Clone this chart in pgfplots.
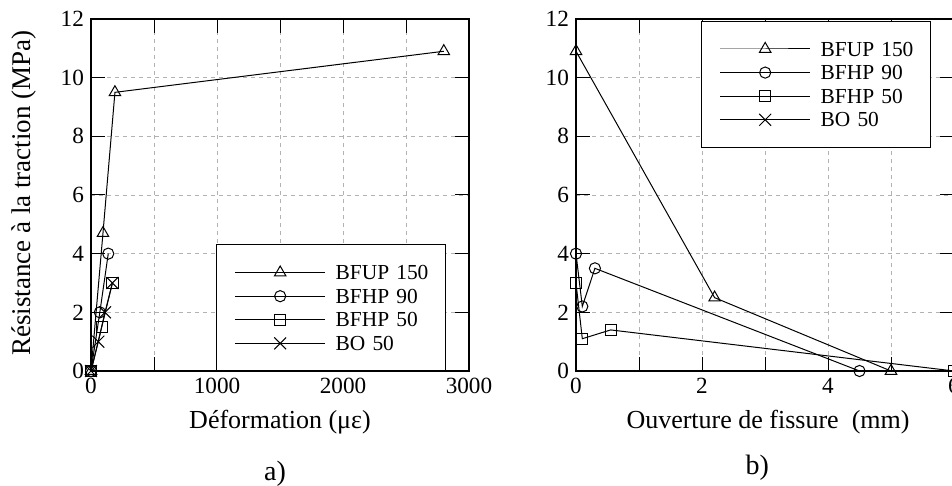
\documentclass[border=0pt]{standalone}
\usepackage{fontspec}
\setmainfont{Liberation Serif}
\usepackage{pgfplots}
\pgfplotsset{compat=1.18}
\begin{document}
\begin{tikzpicture}
\path[use as bounding box] (0pt,0pt) rectangle (476pt,243pt);
\pgfplotsset{
 myaxis/.style={
  scale only axis, width=189pt, height=176pt, anchor=south west,
  ymin=0, ymax=12, ytick={0,2,...,12}, yticklabels={0,2,4,6,8,10,12},
  grid=major, major grid style={dash pattern=on 2pt off 2pt, color=black!30, line width=0.4pt},
  axis line style={line width=0.6pt}, major tick length=7pt, tick style={black, line width=0.5pt},
  tick pos=both,
  ticklabel style={font=\fontsize{11.6}{13}\selectfont},
  label style={font=\fontsize{13}{15}\selectfont},
  every axis plot/.append style={black, line width=0.5pt, mark options={solid}},
  legend image code/.code={\draw[mark repeat=2,mark phase=2,##1] plot coordinates {(0pt,0pt) (22.5pt,0pt) (45pt,0pt)};},
  legend style={draw=black, line width=0.5pt, fill=white, outer sep=0pt, inner xsep=9pt, inner ysep=10.2pt, row sep=4.6pt, column sep=5pt, cells={anchor=west}, nodes={inner sep=0pt, text height=7.2pt, text depth=0pt, text width=46pt, align=left, font=\fontsize{10.7}{12}\selectfont}},
 },
 tri/.style={mark=triangle, mark size=3.3pt},
 cir/.style={mark=o, mark size=2.8pt},
 sq/.style={mark=square, mark size=2.8pt},
 cr/.style={mark=x, mark size=4.2pt},
}
\begin{axis}[myaxis, at={(45.5pt,57.5pt)},
  xmin=0, xmax=3000, xtick={0,500,...,3000}, xticklabels={0,,1000,,2000,,3000},
  xlabel={Déformation (με)}, ylabel={Résistance à la traction (MPa)},
  xlabel style={at={(axis description cs:0.5,-0.144)}, anchor=center},
  ylabel style={at={(axis description cs:-0.177,0.505)}, anchor=center, font=\fontsize{13.5}{15}\selectfont},
  legend style={at={(0.3325,0)}, anchor=south west}]
\addplot[tri] coordinates {(0,0) (95,4.7) (190,9.5) (2800,10.9)};
\addplot[cir] coordinates {(0,0) (70,2) (137,4)};
\addplot[sq] coordinates {(0,0) (85,1.5) (170,3)};
\addplot[cr] coordinates {(0,0) (58,1) (111,2) (170,3)};
\legend{\mbox{BFUP 150}, \mbox{BFHP 90}, \mbox{BFHP 50}, \mbox{BO 50}}
\end{axis}
\begin{axis}[myaxis, at={(288pt,57.5pt)},
  xmin=0, xmax=6, xtick={0,1,...,6}, xticklabels={0,,2,,4,,6},
  xlabel={Ouverture de fissure\ \ (mm)},
  xlabel style={at={(axis description cs:0.508,-0.144)}, anchor=center},
  legend style={at={(0.3325,0.9932)}, anchor=north west}]
\addplot[tri] coordinates {(0,10.9) (2.2,2.5) (5,0)};
\addplot[cir] coordinates {(0,4) (0.1,2.2) (0.3,3.5) (4.5,0)};
\addplot[sq] coordinates {(0,3) (0.1,1.1) (0.55,1.4) (6,0)};
\addlegendimage{black, line width=0.5pt, cr}
\legend{\mbox{BFUP 150}, \mbox{BFHP 90}, \mbox{BFHP 50}, \mbox{BO 50}}
\end{axis}
\node[font=\fontsize{14}{16}\selectfont, anchor=base] at (137.5pt,2.5pt) {a)};
\node[font=\fontsize{14}{16}\selectfont, anchor=base] at (378.6pt,5.5pt) {b)};
\end{tikzpicture}
\end{document}
